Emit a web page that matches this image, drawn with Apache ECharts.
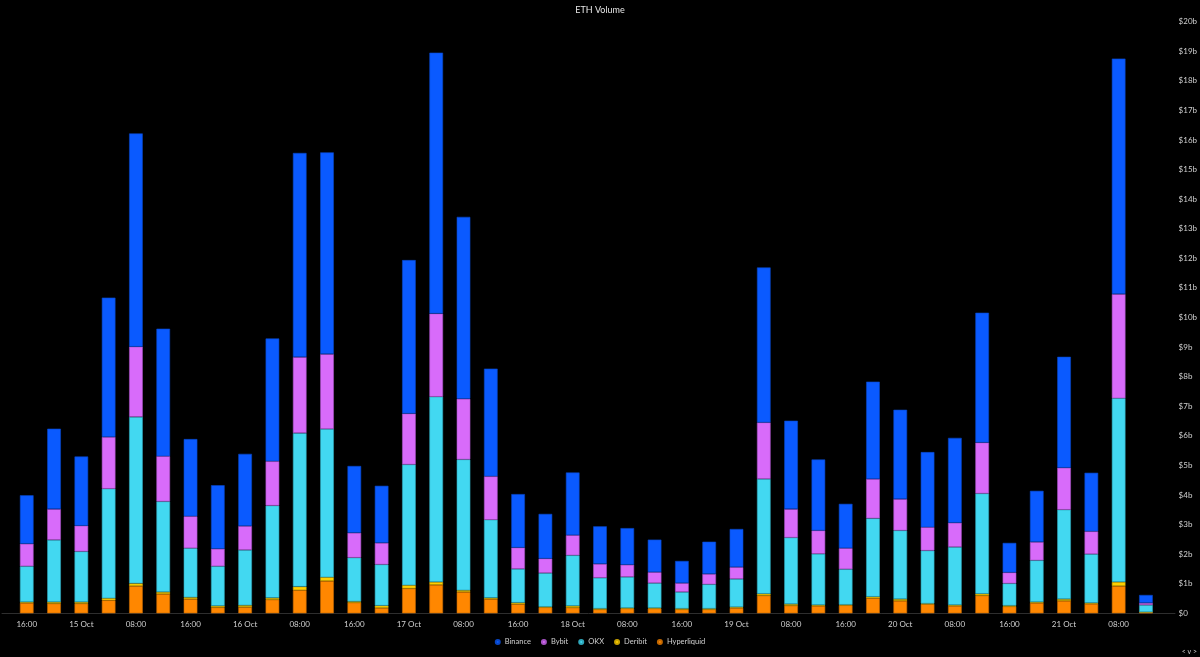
<!DOCTYPE html>
<html>
<head>
<meta charset="utf-8">
<script src="https://cdn.jsdelivr.net/npm/echarts@6/dist/echarts.min.js"></script>
<style>
html,body{margin:0;padding:0;background:#000;}
#chart{width:1200px;height:657px;}
</style>
</head>
<body>
<div id="chart"></div>
<script>
// Categories: 4-hour buckets from 14 Oct 16:00 to 21 Oct 12:00
const categories = [
  "16:00","20:00",
  "15 Oct","04:00","08:00","12:00","16:00","20:00",
  "16 Oct","04:00","08:00","12:00","16:00","20:00",
  "17 Oct","04:00","08:00","12:00","16:00","20:00",
  "18 Oct","04:00","08:00","12:00","16:00","20:00",
  "19 Oct","04:00","08:00","12:00","16:00","20:00",
  "20 Oct","04:00","08:00","12:00","16:00","20:00",
  "21 Oct","04:00","08:00","12:00"
];

// Values in billions of USD
const hyperliquid = [0.35,0.33,0.33,0.44,0.92,0.65,0.48,0.20,0.21,0.46,
  0.78,1.09,0.36,0.18,0.84,0.96,0.72,0.48,0.31,0.20,
  0.19,0.13,0.16,0.16,0.13,0.13,0.18,0.60,0.26,0.25,
  0.27,0.51,0.42,0.31,0.25,0.60,0.23,0.35,0.42,0.32,
  0.92,0.03];
const deribit = [0.03,0.05,0.05,0.07,0.09,0.07,0.06,0.05,0.06,0.06,
  0.12,0.13,0.04,0.08,0.11,0.10,0.06,0.04,0.05,0.02,
  0.06,0.03,0.02,0.02,0.03,0.03,0.03,0.06,0.05,0.03,
  0.02,0.05,0.06,0.02,0.03,0.06,0.03,0.03,0.06,0.03,
  0.14,0.01];
const okx = [1.21,2.10,1.71,3.70,5.63,3.06,1.66,1.34,1.87,3.12,
  5.19,5.01,1.48,1.39,4.08,6.26,4.42,2.64,1.14,1.14,
  1.71,1.04,1.05,0.84,0.56,0.82,0.95,3.88,2.25,1.73,
  1.20,2.65,2.32,1.79,1.96,3.39,0.75,1.41,3.02,1.65,
  6.21,0.24];
const bybit = [0.76,1.04,0.87,1.75,2.37,1.53,1.08,0.59,0.81,1.50,
  2.57,2.53,0.84,0.73,1.72,2.81,2.05,1.47,0.72,0.49,
  0.68,0.47,0.41,0.37,0.30,0.35,0.40,1.91,0.96,0.79,
  0.71,1.33,1.06,0.79,0.82,1.72,0.37,0.62,1.42,0.77,
  3.52,0.07];
const binance = [1.64,2.72,2.34,4.71,7.21,4.31,2.61,2.15,2.44,4.15,
  6.90,6.82,2.26,1.93,5.19,8.82,6.15,3.64,1.81,1.51,
  2.12,1.27,1.24,1.10,0.75,1.09,1.29,5.24,2.99,2.40,
  1.50,3.29,3.02,2.54,2.87,4.39,1.00,1.73,3.75,1.98,
  7.96,0.27];

const yTickLabels = ["$0","$1b","$2b","$3b","$4b","$5b","$6b","$7b","$8b","$9b","$10b",
  "$11b","$12b","$13b","$14b","$15b","$16b","$17b","$18b","$19b","$20b"];

const legendOrder = ["Binance","Bybit","OKX","Deribit","Hyperliquid"];

const colors = {
  Binance: "#0A5AFF",
  Bybit: "#D86BFA",
  OKX: "#42D8F1",
  Deribit: "#FFD000",
  Hyperliquid: "#FF8700"
};
const borders = {
  Binance: "#0846c4",
  Bybit: "#a752c4",
  OKX: "#2fa7bb",
  Deribit: "#c9a200",
  Hyperliquid: "#c46800"
};

const FONT = "Lato";

function barSeries(name, data) {
  return {
    name: name,
    type: "bar",
    stack: "vol",
    xAxisIndex: 0,
    yAxisIndex: 0,
    barWidth: "50%",
    data: data,
    itemStyle: { color: colors[name], borderColor: borders[name], borderWidth: 0.6 },
    emphasis: { disabled: true }
  };
}

const chart = echarts.init(document.getElementById("chart"), null, { renderer: "canvas" });
chart.setOption({
  backgroundColor: "#000000",
  animation: false,
  title: {
    text: "ETH Volume",
    left: "center",
    top: 1,
    textStyle: { color: "#e6e6e6", fontSize: 9, fontWeight: "normal", fontFamily: FONT }
  },
  legend: {
    data: legendOrder,
    left: "center",
    top: 633,
    icon: "circle",
    itemWidth: 4,
    itemHeight: 4,
    itemGap: 10,
    textStyle: { color: "#d0d0d0", fontSize: 7.5, fontFamily: FONT }
  },
  grid: [
    { left: 13.1, right: 36.3, top: 21.6, bottom: 43.7, containLabel: false },
    { left: 2, right: 25, top: 21.6, bottom: 43.7, containLabel: false }
  ],
  xAxis: [
    {
      type: "category",
      gridIndex: 0,
      data: categories,
      boundaryGap: true,
      axisLine: { show: false },
      axisTick: { show: false },
      axisLabel: {
        interval: 1,
        color: "#d0d0d0",
        fontSize: 8,
        fontFamily: FONT,
        margin: 7
      },
      splitLine: { show: false }
    },
    {
      type: "value",
      gridIndex: 1,
      min: 0,
      max: 1,
      axisLine: { show: true, onZero: false, lineStyle: { color: "#2e2e2e", width: 1 } },
      axisTick: { show: false },
      axisLabel: { show: false },
      splitLine: { show: false }
    }
  ],
  yAxis: [
    {
      type: "value",
      gridIndex: 0,
      position: "right",
      min: 0,
      max: 20,
      interval: 1,
      axisLine: { show: false },
      axisTick: { show: false },
      splitLine: { show: false },
      axisLabel: {
        color: "#d0d0d0",
        fontSize: 8,
        fontFamily: FONT,
        margin: 19,
        formatter: function (v) { return yTickLabels[Math.round(v)]; }
      }
    },
    {
      type: "value",
      gridIndex: 1,
      min: 0,
      max: 1,
      show: false
    }
  ],
  series: [
    barSeries("Hyperliquid", hyperliquid),
    barSeries("Deribit", deribit),
    barSeries("OKX", okx),
    barSeries("Bybit", bybit),
    barSeries("Binance", binance)
  ],
  graphic: [
    {
      type: "text",
      right: 3,
      bottom: 2,
      style: { text: "< v >", fill: "#cfcfcf", fontSize: 7, fontFamily: FONT }
    }
  ]
});
</script>
</body>
</html>
